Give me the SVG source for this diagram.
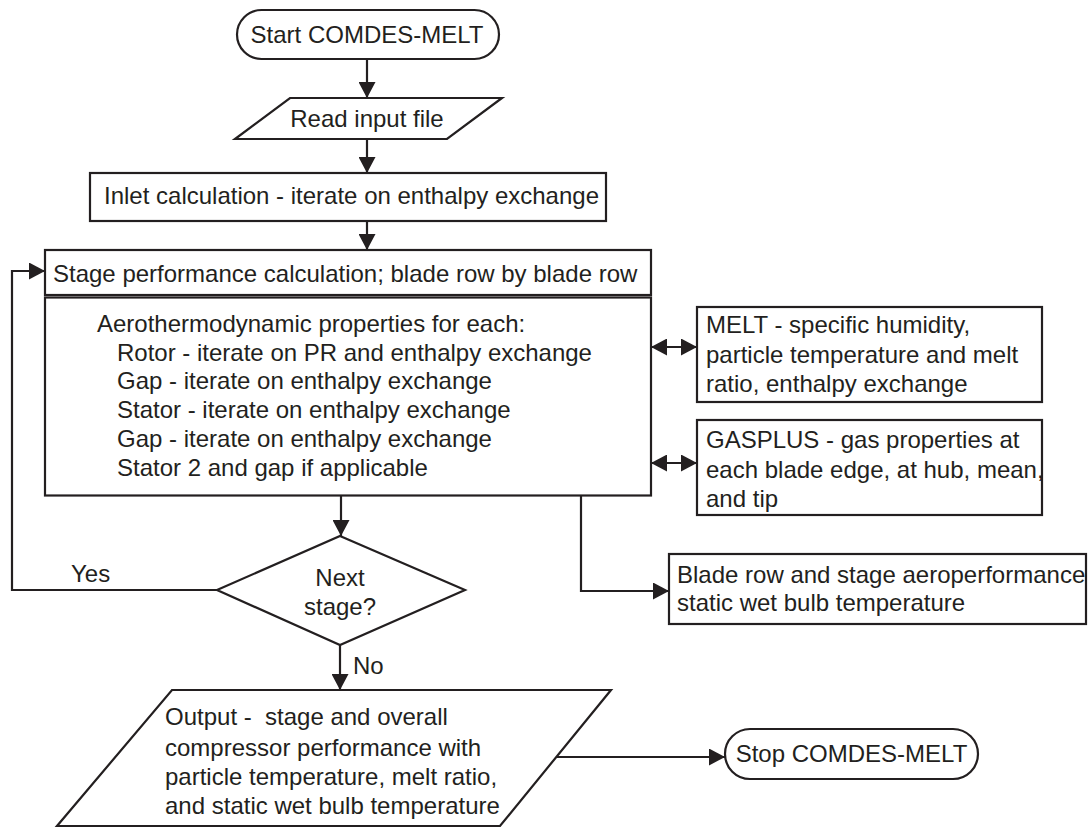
<svg xmlns="http://www.w3.org/2000/svg" width="1089" height="828" viewBox="0 0 1089 828">
<style>
.n{fill:#ffffff;stroke:#231f20;stroke-width:2.2}
.t{font-family:"Liberation Sans",Arial,sans-serif;font-size:24px;fill:#231f20}
.m{text-anchor:middle}
.c{fill:none;stroke:#231f20;stroke-width:2.2}
</style>
<defs>
<marker id="ah" viewBox="0 0 16 17" refX="16" refY="8.5" markerWidth="16" markerHeight="17" orient="auto-start-reverse" markerUnits="userSpaceOnUse">
<path d="M0,0 L16,8.5 L0,17 z" fill="#231f20"/>
</marker>
</defs>
<rect width="1089" height="828" fill="#ffffff"/>
<g id="connectors">
<path class="c" d="M367,59 V98" marker-end="url(#ah)"/>
<path class="c" d="M367,139 V173" marker-end="url(#ah)"/>
<path class="c" d="M367,221 V250" marker-end="url(#ah)"/>
<path class="c" d="M341,496 V536" marker-end="url(#ah)"/>
<path class="c" d="M340,645 V690" marker-end="url(#ah)"/>
<path class="c" d="M217,590 H12 V271 H45" marker-end="url(#ah)"/>
<path class="c" d="M581,496 V591 H669" marker-end="url(#ah)"/>
<path class="c" d="M651,347 H697" marker-start="url(#ah)" marker-end="url(#ah)"/>
<path class="c" d="M651,463 H697" marker-start="url(#ah)" marker-end="url(#ah)"/>
<path class="c" d="M557,757 H725" marker-end="url(#ah)"/>
<text class="t" x="71" y="582">Yes</text>
<text class="t" x="353" y="674">No</text>
</g>
<g id="start">
<rect class="n" x="237" y="10" width="262" height="49" rx="24.5"/>
<text class="t m" x="367" y="43">Start COMDES-MELT</text>
</g>
<g id="read">
<polygon class="n" points="290,98 502,98 447,139 235,139"/>
<text class="t m" x="367" y="127">Read input file</text>
</g>
<g id="inlet">
<rect class="n" x="90" y="173" width="516" height="48"/>
<text class="t" x="104" y="204">Inlet calculation - iterate on enthalpy exchange</text>
</g>
<g id="stage">
<rect class="n" x="45" y="250" width="606" height="45"/>
<text class="t" x="53" y="282">Stage performance calculation; blade row by blade row</text>
</g>
<g id="aero">
<rect class="n" x="45" y="297.5" width="606" height="198"/>
<text class="t" x="97" y="332">Aerothermodynamic properties for each:</text>
<text class="t" x="117" y="360.7">Rotor - iterate on PR and enthalpy exchange</text>
<text class="t" x="117" y="389.4">Gap - iterate on enthalpy exchange</text>
<text class="t" x="117" y="418.1">Stator - iterate on enthalpy exchange</text>
<text class="t" x="117" y="446.8">Gap - iterate on enthalpy exchange</text>
<text class="t" x="117" y="475.5">Stator 2 and gap if applicable</text>
</g>
<g id="melt">
<rect class="n" x="697" y="307" width="345" height="95"/>
<text class="t" x="706" y="333">MELT - specific humidity,</text>
<text class="t" x="706" y="363">particle temperature and melt</text>
<text class="t" x="706" y="392">ratio, enthalpy exchange</text>
</g>
<g id="gasplus">
<rect class="n" x="697" y="420" width="345" height="95"/>
<text class="t" x="706" y="448">GASPLUS - gas properties at</text>
<text class="t" x="706" y="478">each blade edge, at hub, mean,</text>
<text class="t" x="706" y="507">and tip</text>
</g>
<g id="blade">
<rect class="n" x="669" y="554" width="417" height="70"/>
<text class="t" x="677" y="583">Blade row and stage aeroperformance</text>
<text class="t" x="677" y="611">static wet bulb temperature</text>
</g>
<g id="decision">
<polygon class="n" points="340,536 465,590 340,645 217,590"/>
<text class="t m" x="340" y="586">Next</text>
<text class="t m" x="340" y="615">stage?</text>
</g>
<g id="output">
<polygon class="n" points="172,690 611,690 500,826 57,826"/>
<text class="t" x="165" y="725" xml:space="preserve" style="white-space:pre">Output -  stage and overall</text>
<text class="t" x="165" y="756">compressor performance with</text>
<text class="t" x="165" y="785">particle temperature, melt ratio,</text>
<text class="t" x="165" y="814">and static wet bulb temperature</text>
</g>
<g id="stop">
<rect class="n" x="725" y="729" width="253" height="50" rx="25"/>
<text class="t m" x="851.5" y="762">Stop COMDES-MELT</text>
</g>
</svg>
